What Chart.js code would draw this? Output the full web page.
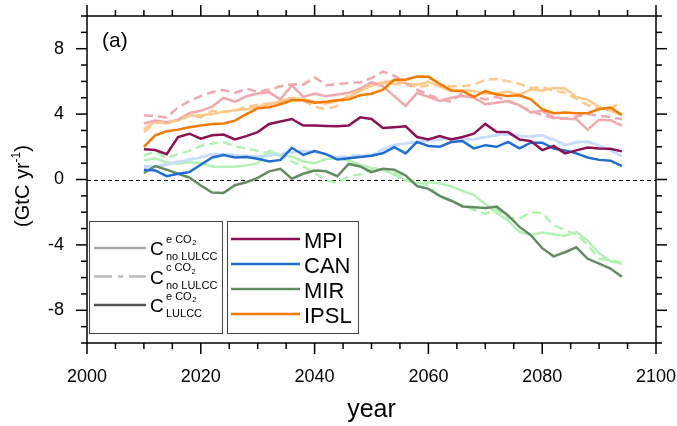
<!DOCTYPE html>
<html>
<head>
<meta charset="utf-8">
<script src="https://cdn.jsdelivr.net/npm/chart.js@4"></script>
<style>
html, body { margin: 0; padding: 0; background: #fff; }
</style>
</head>
<body>
<canvas id="chart" width="677" height="426"></canvas>
<script>
// years of the 2-year sampled series
var years = [2010, 2012, 2014, 2016, 2018, 2020, 2022, 2024, 2026, 2028,
             2030, 2032, 2034, 2036, 2038, 2040, 2042, 2044, 2046, 2048,
             2050, 2052, 2054, 2056, 2058, 2060, 2062, 2064, 2066, 2068,
             2070, 2072, 2074, 2076, 2078, 2080, 2082, 2084, 2086, 2088,
             2090, 2092, 2094];

// C e CO2 LULCC (dark lines)
var mpiLulcc  = [1.85,1.8,1.55,2.6,2.8, 2.5,2.7,2.75,2.45,2.65, 2.9,3.4,3.55,3.7,3.3, 3.3,3.27,3.25,3.3,3.8,
                 3.7,3.15,3.2,3.25,2.6, 2.45,2.65,2.45,2.6,2.8, 3.4,2.9,2.9,2.45,2.35, 1.8,2.05,1.6,1.78,1.95, 1.9,1.88,1.72];
var canLulcc  = [0.6,0.55,0.2,0.35,0.45, 0.9,1.35,1.5,1.35,1.37, 1.27,1.1,1.2,1.94,1.5, 1.74,1.55,1.22,1.3,1.37,
                 1.45,1.6,1.98,1.6,2.3, 2.05,2.0,2.29,2.35,1.9, 2.1,2.0,2.3,1.9,2.25, 2.25,1.9,1.78,1.6,1.35, 1.2,1.15,0.82];
var mirLulcc  = [0.4,0.82,0.6,0.35,0.12, -0.37,-0.8,-0.82,-0.35,-0.17, 0.1,0.5,0.65,0.05,0.35, 0.55,0.5,0.2,0.95,0.8,
                 0.45,0.65,0.6,0.25,-0.4, -0.57,-1.0,-1.3,-1.65,-1.7, -1.75,-1.66,-2.2,-2.9,-3.4, -4.2,-4.7,-4.45,-4.15,-4.85, -5.15,-5.45,-5.95];
var ipslLulcc = [2.0,2.7,2.95,3.05,3.2, 3.3,3.4,3.42,3.6,4.0, 4.35,4.42,4.6,4.85,4.85, 4.7,4.75,4.85,4.9,5.15,
                 5.25,5.5,6.1,6.1,6.3, 6.28,5.85,5.46,5.4,5.05, 5.4,5.2,5.1,5.15,4.9, 4.3,4.05,4.1,4.05,4.05, 4.3,4.4,3.95];

// C e CO2 no LULCC (light solid lines)
var mpiNoE  = [3.42,3.6,3.5,3.65,4.07, 4.2,4.45,5.0,4.75,5.09, 5.26,5.33,4.9,5.75,5.05, 5.26,5.1,5.2,5.3,5.55,
               5.95,5.7,5.1,4.5,5.3, 5.05,4.8,5.0,5.1,5.0, 4.6,4.7,4.8,4.55,4.1, 4.2,3.8,3.72,3.68,3.05, 3.66,3.62,3.3];
var canNoE  = [0.82,0.78,0.9,1.05,1.2, 1.35,1.55,1.55,1.5,1.45, 1.4,1.45,1.55,1.65,1.75, 1.7,1.55,1.35,1.35,1.45,
               1.47,1.8,2.12,2.2,2.3, 2.39,2.45,2.5,2.45,2.45, 2.58,2.7,2.84,2.66,2.64, 2.7,2.45,2.1,2.29,2.33, 2.08,1.78,1.42];
var mirNoE  = [1.17,1.3,1.05,0.96,1.05, 1.0,0.8,0.77,0.8,0.85, 1.0,1.75,1.5,1.4,1.1, 1.0,1.25,1.3,1.15,0.9,
               0.7,0.6,0.3,-0.05,-0.25, -0.15,-0.25,-0.42,-0.7,-0.95, -1.5,-2.05,-2.5,-3.2,-3.4, -3.25,-3.35,-3.45,-3.2,-3.75, -4.5,-5.0,-5.15];
var ipslNoE = [3.1,3.52,3.42,3.62,3.9, 3.93,4.0,4.15,4.23,4.3, 4.45,4.6,4.8,4.98,4.92, 4.75,4.64,4.8,5.05,5.4,
               5.75,5.95,6.05,5.87,5.8, 5.97,5.7,5.4,5.46,5.4, 5.26,5.28,5.36,5.2,5.5, 5.45,5.6,5.56,5.05,4.87, 4.44,4.2,3.95];

// C c CO2 no LULCC (light dashed lines)
var mpiNoC  = [3.93,3.87,3.8,4.4,4.8, 5.1,5.35,5.47,5.3,5.56, 5.36,5.5,5.7,5.83,5.8, 6.25,5.77,5.83,5.91,5.95,
               6.2,6.6,6.35,5.9,5.5, 5.2,4.9,4.75,5.3,5.1, 4.9,5.05,4.8,4.5,4.2, 3.95,3.75,3.72,3.85,4.0, 3.9,3.82,3.68];
var canNoC  = [0.78,0.8,0.95,1.1,1.22, 1.38,1.5,1.58,1.48,1.42, 1.38,1.5,1.58,1.7,1.72, 1.68,1.5,1.38,1.45,1.5,
               1.52,1.85,2.05,2.25,2.28, 2.4,2.42,2.5,2.48,2.5, 2.6,2.72,2.75,2.68,2.6, 2.72,2.35,2.15,2.25,2.3, 2.05,1.8,1.45];
var mirNoC  = [1.47,1.7,1.3,1.55,1.75, 2.05,2.2,2.28,2.02,1.9, 1.75,1.6,1.45,1.1,0.8, 0.4,-0.05,-0.2,0.2,0.3,
               0.6,0.6,0.4,0.1,-0.15, -0.35,-1.1,-1.3,-1.6,-1.85, -2.1,-1.85,-2.35,-2.38,-2.0, -2.05,-2.8,-3.1,-3.35,-4.0, -4.85,-4.95,-5.05];
var ipslNoC = [2.9,3.45,3.52,3.62,3.9, 3.8,4.2,4.15,4.2,4.45, 4.58,4.65,4.7,5.0,4.85, 4.45,4.3,4.5,5.2,5.45,
               5.75,5.9,5.85,5.8,5.66, 5.75,5.77,5.7,5.7,5.8, 6.1,6.15,6.0,5.85,5.6, 5.65,5.45,5.3,4.95,4.55, 4.35,4.35,4.75];

var models = ["MPI", "CAN", "MIR", "IPSL"];
var xTickLabels = [2000, 2020, 2040, 2060, 2080, 2100];
var yTickLabels = [-8, -4, 0, 4, 8];

var darkColors  = ["#8c1255", "#1f6fd2", "#648c64", "#f27a00"];
var lightColors = ["#f0a8ae", "#c8dcff", "#b4f2b4", "#ffc98c"];

var FONT = "'Liberation Sans', Arial, Helvetica, sans-serif";

function pts(vals) {
  return vals.map(function (v, i) { return { x: years[i], y: v }; });
}
function line(label, vals, color, dashed) {
  return {
    label: label,
    data: pts(vals),
    borderColor: color,
    borderWidth: 2.5,
    borderDash: dashed ? [9, 5] : [],
    pointRadius: 0,
    fill: false,
    tension: 0
  };
}

var lulcc = [mpiLulcc, canLulcc, mirLulcc, ipslLulcc];
var noE = [mpiNoE, canNoE, mirNoE, ipslNoE];
var noC = [mpiNoC, canNoC, mirNoC, ipslNoC];

// first dataset is drawn on top, so dark lines go first
var datasets = [];
for (var i = 0; i < models.length; i++) datasets.push(line(models[i], lulcc[i], darkColors[i], false));
for (var i = 0; i < models.length; i++) datasets.push(line(models[i] + " c", noC[i], lightColors[i], true));
for (var i = 0; i < models.length; i++) datasets.push(line(models[i] + " e", noE[i], lightColors[i], false));

function seg(ctx, x1, y1, x2, y2) {
  ctx.beginPath(); ctx.moveTo(x1, y1); ctx.lineTo(x2, y2); ctx.stroke();
}

function drawC(ctx, x, y, sup, sub) {
  ctx.fillStyle = "#000";
  ctx.textBaseline = "alphabetic";
  ctx.textAlign = "left";
  ctx.font = "19px " + FONT;
  ctx.fillText("C", x, y);
  var sx = x + 16;
  ctx.font = "11px " + FONT;
  ctx.fillText(sup, sx, y - 12.5);
  var w = ctx.measureText(sup).width;
  ctx.font = "7.5px " + FONT;
  ctx.fillText("2", sx + w + 0.5, y - 10);
  ctx.font = "11px " + FONT;
  ctx.fillText(sub, sx, y + 5);
}

var framePlugin = {
  id: "frame",
  beforeDatasetsDraw: function (chart) {
    var ctx = chart.ctx, a = chart.chartArea, ys = chart.scales.y;
    ctx.save();
    ctx.strokeStyle = "#000";
    ctx.lineWidth = 1;
    ctx.setLineDash([4, 3]);
    var y0 = Math.round(ys.getPixelForValue(0)) + 0.5;
    seg(ctx, a.left, y0, a.right, y0);
    ctx.restore();
  },
  afterDraw: function (chart) {
    var ctx = chart.ctx, a = chart.chartArea;
    var xs = chart.scales.x, ys = chart.scales.y;
    ctx.save();
    ctx.strokeStyle = "#000";
    ctx.lineWidth = 1.5;
    ctx.strokeRect(a.left, a.top, a.right - a.left, a.bottom - a.top);

    // x ticks, bottom and top
    for (var yr = xs.min; yr <= xs.max; yr += 5) {
      var px = xs.getPixelForValue(yr);
      var len = xTickLabels.indexOf(yr) >= 0 ? 11 : 6;
      seg(ctx, px, a.bottom, px, a.bottom + len);
      seg(ctx, px, a.top, px, a.top - len);
    }
    // y ticks, left and right
    for (var v = ys.min; v <= ys.max; v += 1) {
      var py = ys.getPixelForValue(v);
      var l2 = yTickLabels.indexOf(v) >= 0 ? 11 : 6;
      seg(ctx, a.left, py, a.left - l2, py);
      seg(ctx, a.right, py, a.right + l2, py);
    }

    // panel tag
    ctx.fillStyle = "#000";
    ctx.font = "21px " + FONT;
    ctx.textAlign = "left";
    ctx.textBaseline = "alphabetic";
    ctx.fillText("(a)", 102, 47);

    // y axis title with superscript
    ctx.save();
    ctx.translate(29, 186);
    ctx.rotate(-Math.PI / 2);
    ctx.font = "20px " + FONT;
    var t1 = "(GtC yr", t3 = ")";
    var w1 = ctx.measureText(t1).width, w3 = ctx.measureText(t3).width;
    ctx.font = "12px " + FONT;
    var w2 = ctx.measureText("-1").width;
    var sx = -(w1 + w2 + w3) / 2;
    ctx.font = "20px " + FONT;
    ctx.fillText(t1, sx, 0);
    ctx.font = "12px " + FONT;
    ctx.fillText("-1", sx + w1, -9);
    ctx.font = "20px " + FONT;
    ctx.fillText(t3, sx + w1 + w2, 0);
    ctx.restore();

    // legend boxes
    ctx.setLineDash([]);
    ctx.fillStyle = "#fff";
    ctx.strokeStyle = "#444";
    ctx.lineWidth = 1;
    ctx.fillRect(89.5, 221.5, 133, 112);
    ctx.strokeRect(89.5, 221.5, 133, 112);
    ctx.fillRect(227.5, 221.5, 131, 112);
    ctx.strokeRect(227.5, 221.5, 131, 112);

    // legend 1: experiments
    var expColors = ["#aaaaaa", "#bcbcbc", "#555555"];
    var expDash = [[], [18, 6, 5, 6], []];
    var expSup = ["e CO", "c CO", "e CO"];
    var expSub = ["no LULCC", "no LULCC", "LULCC"];
    for (var k = 0; k < 3; k++) {
      var ly = 248 + k * 28.5;
      ctx.strokeStyle = expColors[k];
      ctx.lineWidth = 2.5;
      ctx.setLineDash(expDash[k]);
      seg(ctx, 94, ly, 146, ly);
      ctx.setLineDash([]);
      drawC(ctx, 150, ly + 7, expSup[k], expSub[k]);
    }

    // legend 2: models
    for (var m = 0; m < models.length; m++) {
      var my = 239 + m * 25;
      ctx.strokeStyle = darkColors[m];
      ctx.lineWidth = 2.5;
      seg(ctx, 231, my, 300, my);
      ctx.fillStyle = "#000";
      ctx.font = "22px " + FONT;
      ctx.textAlign = "left";
      ctx.textBaseline = "alphabetic";
      ctx.fillText(models[m], 304, my + 8.5);
    }
    ctx.restore();
  }
};

new Chart(document.getElementById("chart"), {
  type: "line",
  data: { datasets: datasets },
  plugins: [framePlugin],
  options: {
    responsive: false,
    animation: false,
    devicePixelRatio: 1,
    layout: { padding: { left: 0, right: 21, top: 16, bottom: 0 } },
    plugins: { legend: { display: false }, tooltip: { enabled: false } },
    scales: {
      x: {
        type: "linear",
        position: "bottom",
        min: 2000,
        max: 2100,
        afterBuildTicks: function (s) { s.ticks = xTickLabels.map(function (v) { return { value: v }; }); },
        afterFit: function (s) { s.height = 83; s.paddingLeft = 0; s.paddingRight = 0; },
        ticks: {
          autoSkip: false, maxRotation: 0, padding: 12, color: "#000",
          font: { family: FONT, size: 18 },
          callback: function (v) { return String(v); }
        },
        grid: { drawOnChartArea: false, drawTicks: true, tickLength: 11, tickColor: "rgba(0,0,0,0)" },
        border: { display: false },
        title: { display: true, text: "year", color: "#000", font: { family: FONT, size: 25 }, padding: { top: 0, bottom: 1 } }
      },
      y: {
        type: "linear",
        position: "left",
        min: -10,
        max: 10,
        afterBuildTicks: function (s) { s.ticks = yTickLabels.map(function (v) { return { value: v }; }); },
        afterFit: function (s) { s.width = 87; s.paddingTop = 0; s.paddingBottom = 0; },
        ticks: {
          autoSkip: false, padding: 12, color: "#000",
          font: { family: FONT, size: 18 },
          callback: function (v) { return String(v); }
        },
        grid: { drawOnChartArea: false, drawTicks: true, tickLength: 11, tickColor: "rgba(0,0,0,0)" },
        border: { display: false }
      }
    }
  }
});
</script>
</body>
</html>
